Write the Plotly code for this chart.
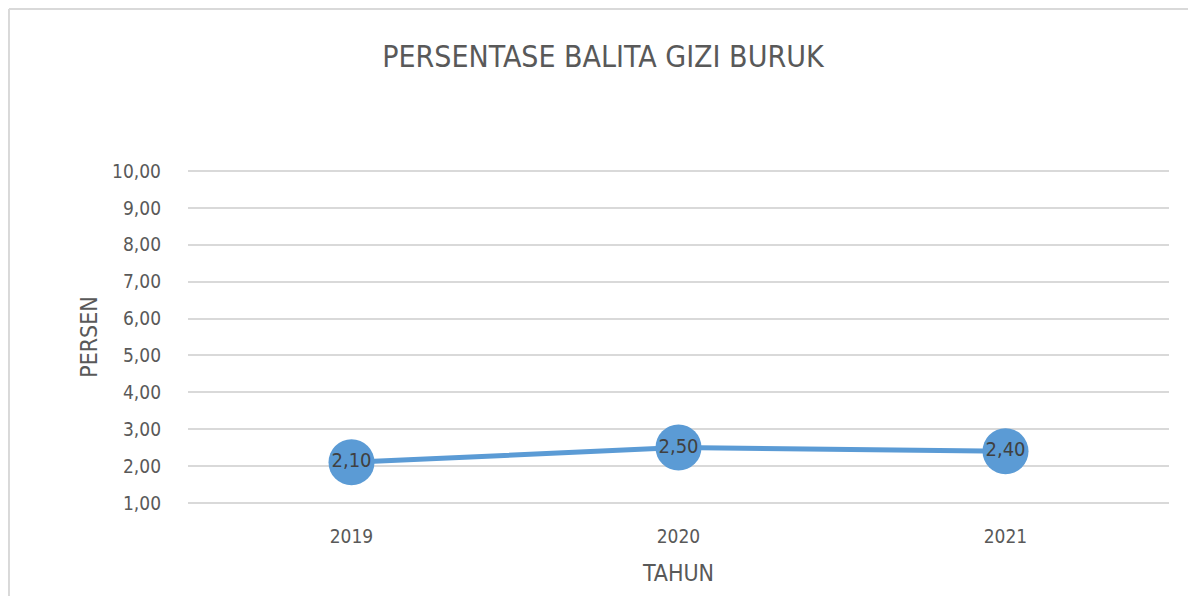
import plotly.graph_objects as go

years = ["2019", "2020", "2021"]
persen = [2.10, 2.50, 2.40]
labels = ["2,10", "2,50", "2,40"]
title_text = "PERSENTASE BALITA GIZI BURUK"

FONT = "DejaVu Sans Condensed, Liberation Sans Narrow, Open Sans, sans-serif"
GRAY = "#595959"
BLUE = "#5B9BD5"

fig = go.Figure()
fig.add_trace(go.Scatter(
    x=years, y=persen, mode="lines+markers+text",
    text=labels, textposition="middle center",
    textfont=dict(family=FONT, size=20, color="#404040"),
    line=dict(color=BLUE, width=5),
    marker=dict(color=BLUE, size=46),
    cliponaxis=False, showlegend=False,
))

fig.update_layout(
    width=1188, height=588,
    margin=dict(l=180, r=27, t=162, b=92, autoexpand=False),
    paper_bgcolor="white", plot_bgcolor="white",
    separators=",.",
    title=dict(text=title_text, x=0.5008, xanchor="center", y=0.9167, yanchor="middle",
               font=dict(family=FONT, size=30, color=GRAY)),
    font=dict(family=FONT, color=GRAY),
    xaxis=dict(type="category", range=[-0.5, 2.5], showgrid=False, showline=False,
               automargin=False, ticks="", ticklabelstandoff=19,
               tickfont=dict(size=19, color=GRAY),
               title=dict(text="TAHUN", font=dict(size=23, color=GRAY), standoff=18)),
    yaxis=dict(range=[0.97, 10.03], dtick=1, tick0=1, tickformat=".2f",
               showgrid=True, gridcolor="#d9d9d9", gridwidth=2, zeroline=False,
               showline=False, ticks="", ticklabelstandoff=26, automargin=False,
               tickfont=dict(size=19, color=GRAY),
               title=dict(text="PERSEN", font=dict(size=23, color=GRAY), standoff=8)),
    shapes=[
        dict(type="line", xref="paper", yref="paper", x0=-0.1825, x1=1.05, y0=1.482, y1=1.482,
             line=dict(color="#d9d9d9", width=2)),
        dict(type="line", xref="paper", yref="paper", x0=-0.1825, x1=-0.1825, y0=-0.3, y1=1.482,
             line=dict(color="#d9d9d9", width=2)),
    ],
)

fig.write_html("out.html")
